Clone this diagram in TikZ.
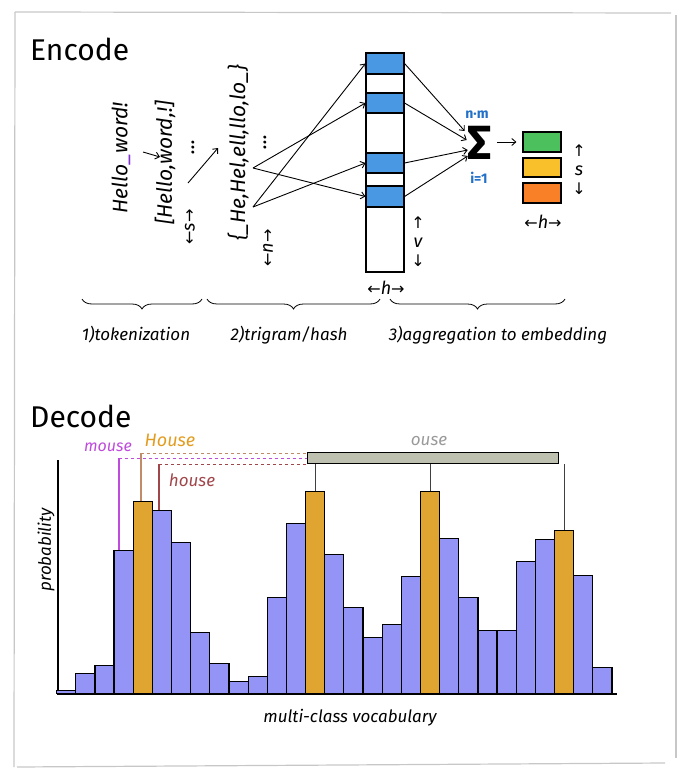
\documentclass[tikz,border=0pt]{standalone}
\usepackage{fontspec}
\setmainfont{Fira Sans}
\newfontfamily\arrowfont{DejaVu Sans}
\usetikzlibrary{arrows.meta,positioning,decorations.pathreplacing}

\definecolor{cellblue}{RGB}{72,152,228}
\definecolor{barblue}{RGB}{148,148,246}
\definecolor{bargold}{RGB}{224,164,48}
\definecolor{embgreen}{RGB}{76,192,92}
\definecolor{embyellow}{RGB}{250,192,44}
\definecolor{emborange}{RGB}{250,128,40}
\definecolor{mousecol}{RGB}{190,75,219}
\definecolor{Housecol}{RGB}{226,156,32}
\definecolor{Houseline}{RGB}{192,140,104}
\definecolor{housecol}{RGB}{160,70,74}
\definecolor{ousefill}{RGB}{190,192,176}
\definecolor{sumblue}{RGB}{34,112,200}
\definecolor{gapcol}{RGB}{130,50,210}

\newcommand{\dimtxt}[1]{{\arrowfont\fontsize{16}{16}\selectfont ←}#1{\arrowfont\fontsize{16}{16}\selectfont →}}
\newcommand{\dimvert}[1]{{\arrowfont\fontsize{16}{16}\selectfont ↑}\\#1\\{\arrowfont\fontsize{16}{16}\selectfont ↓}}

\begin{document}
\begin{tikzpicture}[x=1pt, y=-1pt, >={Straight Barb[length=4pt,width=7pt]},
hand/.style={font=\fontsize{17}{17}\selectfont\itshape, inner sep=1pt},
rot/.style={font=\fontsize{21}{21}\selectfont\itshape, rotate=90, inner sep=1pt},
title/.style={font=\fontsize{30}{30}\selectfont, anchor=base west, inner sep=0pt},
cell/.style={draw, line width=1.1pt, fill=cellblue, minimum width=38pt, inner sep=0pt},
emb/.style={draw, line width=1.1pt, minimum width=38pt, minimum height=19pt, inner sep=0pt},
bar/.style={draw, line width=1.2pt, minimum width=19.15pt, inner sep=0pt, anchor=south west},
link/.style={->, line width=0.9pt},
brace/.style={decorate, decoration={brace, amplitude=10pt}, line width=0.8pt},
frame/.style={draw=black!22, line width=1.2pt}]
\useasboundingbox (0,0) rectangle (686,779);

% frame
\draw[frame] (15,12) -- (671,13);
\draw[frame] (676,15) -- (676,758);
\draw[frame] (15,12) -- (14,767);
\draw[frame] (17,767) -- (665,763);

% encode
\node[title] (encode) at (30,60) {Encode};
\node[rot] (hello) at (121,158) {Hello\textcolor{gapcol}{\_}word!};
\node[rot] (tokens) at (165,163) {[Hello,word,!]};
\node[rot] (tokdots) at (193,147) {...};
\node[rot, font=\fontsize{18}{18}\selectfont\itshape] (sdimL) at (190,227) {\dimtxt{s}};
\node[rot] (trigrams) at (238,153) {\{\_He,Hel,ell,llo,lo\_\}};
\node[rot] (tridots) at (265,142) {...};
\node[rot, font=\fontsize{18}{18}\selectfont\itshape] (ndim) at (268,248) {\dimtxt{n}};
\coordinate (splitout) at (143,152);
\coordinate (splitin) at (160,157);
\coordinate (tokout) at (188,183);
\coordinate (triin) at (218,148);
\coordinate (triA) at (253,168);
\coordinate (triB) at (253,207);

\node[draw, line width=1.1pt, minimum width=38pt, minimum height=219pt, inner sep=0pt] (vocab) at (385,162.5) {};
\node[cell, minimum height=21pt] (cellA) at (385,63.5) {};
\node[cell, minimum height=20pt] (cellB) at (385,103) {};
\node[cell, minimum height=20pt] (cellC) at (385,163) {};
\node[cell, minimum height=21pt] (cellD) at (385,196.5) {};
\node[hand, align=center, font=\fontsize{18}{19}\selectfont\itshape] (vdim) at (418,242) {\dimvert{v}};
\node[hand, font=\fontsize{18}{18}\selectfont\itshape] (hdimcol) at (386,288) {\dimtxt{h}};

\node[font=\fontsize{48}{48}\selectfont\bfseries, inner sep=0pt] (sum) at (480,143) {Σ};
\node[font=\fontsize{14}{14}\selectfont\bfseries, text=sumblue, inner sep=0pt] (sumtop) at (477,115) {n·m};
\node[font=\fontsize{14}{14}\selectfont\bfseries, text=sumblue, inner sep=0pt] (sumbot) at (479,178) {i=1};

\node[emb, fill=embgreen, minimum height=20pt] (embA) at (542,142) {};
\node[emb, fill=embyellow] (embB) at (542,167.5) {};
\node[emb, fill=emborange, minimum height=20pt] (embC) at (542,193) {};
\node[hand, align=center, font=\fontsize{18}{19}\selectfont\itshape] (sdimR) at (579,170) {\dimvert{s}};
\node[hand, font=\fontsize{18}{18}\selectfont\itshape] (hdimemb) at (543,222) {\dimtxt{h}};

\draw[link] (splitout) -- (splitin);
\draw[link] (tokout) -- (triin);
\draw[link] (triA) -- (cellB.west);
\draw[link] (triA) -- (cellD.west);
\draw[link] (triB) -- (cellA.west);
\draw[link] (triB) -- (cellC.west);
\draw[link] (cellA.east) -- ([xshift=-3pt, yshift=12pt]sum.west);
\draw[link] (cellB.east) -- ([xshift=-1pt, yshift=3pt]sum.west);
\draw[link] (cellC.east) -- ([xshift=0pt, yshift=-7pt]sum.west);
\draw[link] (cellD.east) -- ([xshift=0pt, yshift=-13pt]sum.west);
\draw[link, shorten <=5pt, shorten >=6pt] (sum.east |- embA.west) -- (embA.west);

\draw[brace] (202,299) -- (82,299);
\draw[brace] (380,299) -- (207,299);
\draw[brace] (565,299) -- (390,299);
\node[hand] (steptok) at (136,335) {1)tokenization};
\node[hand] (steptri) at (289,335) {2)trigram/hash};
\node[hand] (stepagg) at (498,335) {3)aggregation to embedding};

% decode
\node[title] (decode) at (30,427) {Decode};
\coordinate (ytop) at (58,460);
\coordinate (orig) at (58,694);
\coordinate (xend) at (617,694);
\draw[line width=1.2pt] (ytop) -- (orig) -- (xend);
\foreach \h/\c [count=\i from 0] in {3/barblue,20/barblue,28/barblue,143/barblue,192/bargold,183/barblue,151/barblue,61/barblue,30/barblue,12/barblue,17/barblue,96/barblue,170/barblue,202/bargold,139/barblue,86/barblue,56/barblue,69/barblue,117/barblue,202/bargold,155/barblue,96/barblue,63/barblue,63/barblue,132/barblue,154/barblue,163/bargold,118/barblue,26/barblue}
  \node[bar, fill=\c, minimum height=\h pt] (bar\i) at (56+19.15*\i,694) {};
\node[rotate=90, hand] (problbl) at (46,550) {probability};
\node[hand] (vocablbl) at (350,718) {multi-class vocabulary};

\node[draw, line width=1pt, fill=ousefill, minimum width=251pt, minimum height=11pt, inner sep=0pt, anchor=north west] (ouse) at (307,452) {};
\node[hand, text=black!40] (ouselbl) at (429,441) {ouse};
\foreach \g in {13,19,26}
  \draw[black!75, line width=1pt] (bar\g.north) -- (ouse.south -| bar\g.north);

\coordinate (mouseknee) at (119,458);
\coordinate (Houseknee) at (141,453);
\coordinate (houseknee) at (159,464);
\draw[mousecol, line width=1.4pt] (bar3.north -| mouseknee) -- (mouseknee);
\draw[mousecol, dashed, line width=0.9pt] (mouseknee) -- (ouse.west |- mouseknee);
\draw[Houseline, line width=1.4pt] (bar4.north -| Houseknee) -- (Houseknee);
\draw[Houseline, dashed, line width=0.9pt] (Houseknee) -- (ouse.west |- Houseknee);
\draw[housecol, line width=1.4pt] (bar5.north -| houseknee) -- (houseknee);
\draw[housecol, dashed, line width=0.9pt] (houseknee) -- (ouse.west |- houseknee);
\node[hand, text=mousecol, font=\fontsize{16}{16}\selectfont\itshape] (mouselbl) at (108,447) {mouse};
\node[hand, text=Housecol, font=\fontsize{18}{18}\selectfont\itshape] (Houselbl) at (170,440) {House};
\node[hand, text=housecol] (houselbl) at (192,480) {house};
\end{tikzpicture}
\end{document}
